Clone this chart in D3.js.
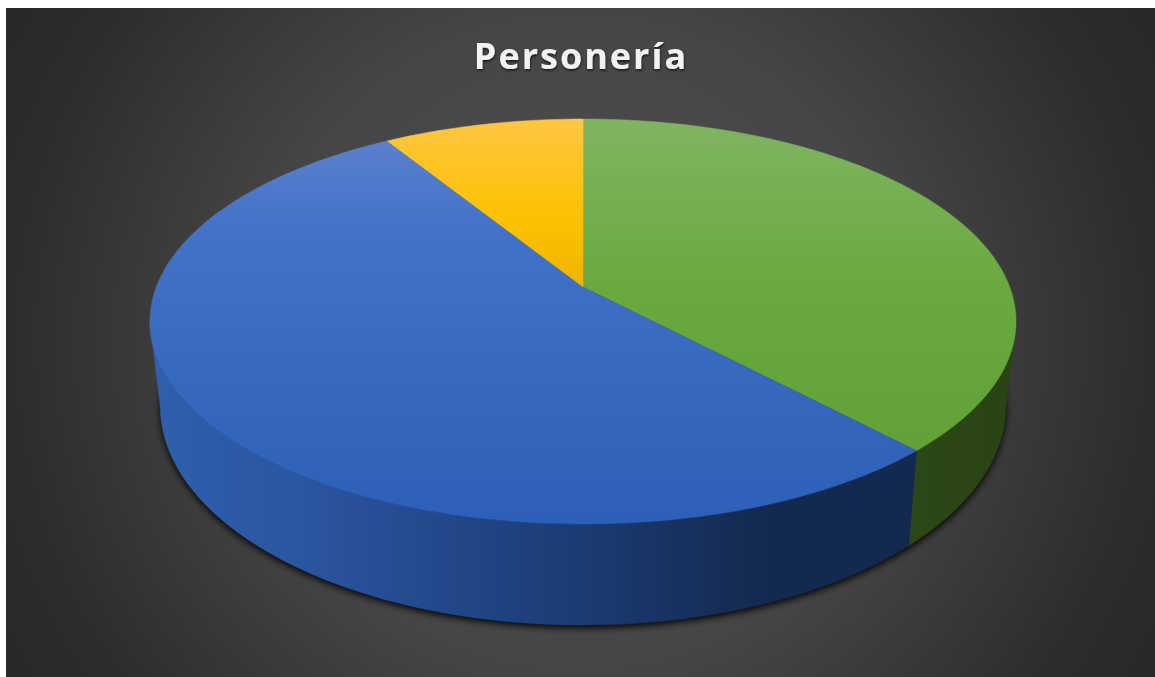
<!DOCTYPE html>
<meta charset="utf-8">
<style>
  html, body { margin: 0; background: #fff; overflow: hidden; }
</style>
<script src="https://d3js.org/d3.v7.min.js"></script>

<div id="pie"></div>

<script>

var categories = ["Categoría 1", "Categoría 2", "Categoría 3"];
var shares = [38, 53.2, 8.8];
var title = "Personería";

var topStops = [
  [[0, "#80b561"], [0.5, "#69aa3e"], [1, "#61a237"]],
  [[0, "#5a80cc"], [0.25, "#4271c8"], [1, "#2c5fb7"]],
  [[0, "#fec643"], [0.6, "#fcc200"], [1, "#efb400"]]
];
var sideStops = [
  [[0, "#2d4817"], [1, "#294314"]],
  [[0, "#2f5fae"], [0.2, "#2b559f"], [0.4, "#214789"], [0.55, "#1b3c74"], [0.8, "#14294f"], [1, "#13294f"]],
  [[0, "#7a5c00"], [1, "#7a5c00"]]
];

var width = 1155,
  height = 677,
  panel = {x: 6, y: 8},
  steps = 240;

// perspective of the disc: unit circle (u, v), v towards the viewer
var cx = 583,
  k = -0.1704,
  topRim = {c: 426.7, a: 147.7, b: 287},
  lowRim = {c: 416.5, a: 149.5, b: 369};

function project(rim, angle) {
  var u = Math.sin(angle), v = -Math.cos(angle), w = 1 + k * v;
  return [cx + rim.c * u / w, (rim.a * v + rim.b) / w];
}

function rimPoints(rim, a0, a1) {
  var n = Math.max(2, Math.ceil(steps * (a1 - a0) / (2 * Math.PI)));
  return d3.range(n + 1).map(function(i) {
    return project(rim, a0 + (a1 - a0) * i / n);
  });
}

var line = d3.line();

var svg = d3.select("#pie")
  .append("svg")
    .attr("width", width)
    .attr("height", height)
    .style("display", "block");

var defs = svg.append("defs");

function addStops(grad, stops) {
  grad.selectAll("stop")
    .data(stops)
    .enter()
    .append("stop")
      .attr("offset", function(d) { return d[0]; })
      .attr("stop-color", function(d) { return d[1]; });
}

var bg = defs.append("radialGradient")
  .attr("id", "bg")
  .attr("gradientUnits", "userSpaceOnUse")
  .attr("cx", 580).attr("cy", 342).attr("r", 660);
addStops(bg, [[0, "#525252"], [0.5, "#454545"], [0.87, "#2c2c2c"], [1, "#282828"]]);

var blur = defs.append("filter")
  .attr("id", "blur")
  .attr("x", "-10%").attr("y", "-10%")
  .attr("width", "120%").attr("height", "120%");
blur.append("feGaussianBlur").attr("stdDeviation", 3.5);

var textShadow = defs.append("filter").attr("id", "textShadow");
textShadow.append("feGaussianBlur")
  .attr("in", "SourceGraphic")
  .attr("stdDeviation", 0.4)
  .attr("result", "soft");
textShadow.append("feDropShadow")
  .attr("in", "soft")
  .attr("dx", 0.5).attr("dy", 1.5)
  .attr("stdDeviation", 1.2)
  .attr("flood-color", "#000")
  .attr("flood-opacity", 0.7);

svg.append("rect")
  .attr("x", panel.x)
  .attr("y", panel.y)
  .attr("width", width - panel.x)
  .attr("height", height - panel.y)
  .style("fill", "url(#bg)");

var slices = d3.pie().sort(null)(shares);

slices.forEach(function(d, i) {
  var g1 = defs.append("linearGradient")
    .attr("id", "top" + i)
    .attr("gradientUnits", "userSpaceOnUse");
  var pts = rimPoints(topRim, d.startAngle, d.endAngle);
  // the disc centre is a corner of every slice
  pts.push([cx, topRim.b]);
  g1.attr("x1", 0).attr("x2", 0)
    .attr("y1", d3.min(pts, function(p) { return p[1]; }))
    .attr("y2", d3.max(pts, function(p) { return p[1]; }));
  addStops(g1, topStops[i]);

  var g2 = defs.append("linearGradient")
    .attr("id", "side" + i)
    .attr("gradientUnits", "userSpaceOnUse")
    .attr("x1", i == 1 ? 150 : 905).attr("x2", i == 1 ? 917 : 1016)
    .attr("y1", 0).attr("y2", 0);
  addStops(g2, sideStops[i]);
});

// front part of the wall only, the rest is behind the top face
var wallFrom = 100 * Math.PI / 180,
  wallTo = 260 * Math.PI / 180;

var lowOutline = rimPoints(lowRim, 0, 2 * Math.PI);

svg.append("path")
  .attr("d", line(lowOutline) + "Z")
  .attr("transform", "translate(0,3)")
  .attr("filter", "url(#blur)")
  .style("fill", "#000")
  .style("opacity", 0.95);

svg.selectAll("path.side")
  .data(slices.filter(function(d) { return d.startAngle < wallTo && d.endAngle > wallFrom; }))
  .enter()
  .append("path")
    .attr("class", "side")
    .attr("d", function(d) {
      var a0 = Math.max(d.startAngle, wallFrom), a1 = Math.min(d.endAngle, wallTo);
      return line(rimPoints(topRim, a0, a1).concat(rimPoints(lowRim, a0, a1).reverse())) + "Z";
    })
    .style("fill", function(d) { return "url(#side" + d.index + ")"; })
    .style("stroke", function(d) { return "url(#side" + d.index + ")"; })
    .style("stroke-width", 0.5);

svg.selectAll("path.top")
  .data(slices)
  .enter()
  .append("path")
    .attr("class", "top")
    .attr("d", function(d) {
      return line([[cx, topRim.b]].concat(rimPoints(topRim, d.startAngle, d.endAngle))) + "Z";
    })
    .style("fill", function(d) { return "url(#top" + d.index + ")"; })
    .style("stroke", function(d) { return "url(#top" + d.index + ")"; })
    .style("stroke-width", 0.5);

svg.append("text")
  .attr("x", 581)
  .attr("y", 69)
  .attr("text-anchor", "middle")
  .attr("filter", "url(#textShadow)")
  .style("font-family", "'Open Sans', sans-serif")
  .style("font-weight", 700)
  .style("font-size", "36px")
  .style("letter-spacing", "2px")
  .style("fill", "#f2f2f2")
  .text(title);

</script>
